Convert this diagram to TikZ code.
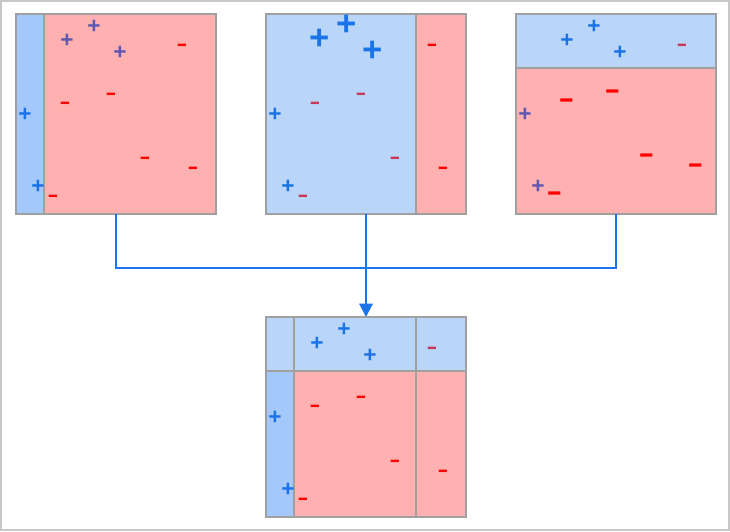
\documentclass[tikz,border=0pt]{standalone}
\usepackage{fontspec}
\setmainfont{Liberation Sans}
\usetikzlibrary{arrows.meta}
\definecolor{blueL}{HTML}{B9D5F8}
\definecolor{blueD}{HTML}{A4C8FA}
\definecolor{redF}{HTML}{FFB0B0}
\definecolor{gridC}{HTML}{A0A0A0}
\definecolor{frameC}{HTML}{C8C8C8}
\definecolor{lineB}{HTML}{1A73E8}
\definecolor{plusB}{HTML}{1A73E8}
\definecolor{plusP}{HTML}{5E58B0}
\definecolor{minR}{HTML}{FF0000}
\definecolor{minC}{HTML}{C8385A}
\begin{document}
\begin{tikzpicture}[x=0.75pt,y=-0.75pt,
  boxframe/.style={draw=gridC,line width=1.2pt,minimum width=150pt,minimum height=150pt,inner sep=0pt,outer sep=0pt},
  divider/.style={draw=gridC,line width=1.2pt},
  conn/.style={draw=lineB,line width=1.5pt},
  pl/.style={font=\bfseries\fontsize{17}{17}\selectfont,inner sep=0pt,yshift=-1.7pt},
  plbig/.style={font=\bfseries\fontsize{26}{26}\selectfont,inner sep=0pt,yshift=-1.8pt},
  mi/.style={font=\fontsize{23}{23}\selectfont,inner sep=0pt,xscale=1.1,yshift=-4.5pt},
  mibig/.style={font=\fontsize{31}{31}\selectfont,inner sep=0pt,xscale=1.2,yshift=-5.1pt}]
\useasboundingbox (0,0) rectangle (730,531);
\draw[frameC,line width=1.1pt] (1,1) rectangle (729,530);
% box 1
\fill[blueD] (16,14) rectangle (44,214);
\fill[redF] (44,14) rectangle (216,214);
\draw[divider] (44,14) -- (44,214);
\node[boxframe] (b1) at (116,114) {};
% box 2
\fill[blueL] (266,14) rectangle (416,214);
\fill[redF] (416,14) rectangle (466,214);
\draw[divider] (416,14) -- (416,214);
\node[boxframe] (b2) at (366,114) {};
% box 3
\fill[blueL] (516,14) rectangle (716,68);
\fill[redF] (516,68) rectangle (716,214);
\draw[divider] (516,68) -- (716,68);
\node[boxframe] (b3) at (616,114) {};
% box 4
\fill[blueL] (266,317) rectangle (466,371);
\fill[blueD] (266,371) rectangle (294,517);
\fill[redF] (294,371) rectangle (466,517);
\draw[divider] (266,371) -- (466,371);
\draw[divider] (294,317) -- (294,517);
\draw[divider] (416,317) -- (416,517);
\node[boxframe] (b4) at (366,417) {};
% connectors
\coordinate (j) at (366,268);
\draw[conn] (b1.south) |- (j);
\draw[conn] (b3.south) |- (j);
\draw[conn,-{Triangle[width=10pt,length=10pt]}] (b2.south) -- (b4.north);
% box 1 symbols
\foreach \x/\y [count=\i] in {67/39,94/25,120/51} \node[pl,text=plusP] (pa\i) at (\x,\y) {+};
\foreach \x/\y [count=\i] in {25/113,38/185} \node[pl,text=plusB] (pb\i) at (\x,\y) {+};
\foreach \x/\y [count=\i] in {182/43,65/101,111/92,145/156,193/166,53/194} \node[mi,text=minR] (ma\i) at (\x,\y) {-};
% box 2 symbols
\foreach \x/\y [count=\i] in {320/37,347/23,373/49} \node[plbig,text=plusB] (pc\i) at (\x,\y) {+};
\foreach \x/\y [count=\i] in {275/113,288/185} \node[pl,text=plusB] (pd\i) at (\x,\y) {+};
\foreach \x/\y [count=\i] in {315/101,361/92,395/156,303/194} \node[mi,text=minC] (mb\i) at (\x,\y) {-};
\foreach \x/\y [count=\i] in {432/43,443/166} \node[mi,text=minR] (mc\i) at (\x,\y) {-};
% box 3 symbols
\foreach \x/\y [count=\i] in {567/39,594/25,620/51} \node[pl,text=plusB] (pe\i) at (\x,\y) {+};
\foreach \x/\y [count=\i] in {525/113,538/185} \node[pl,text=plusP] (pf\i) at (\x,\y) {+};
\node[mi,text=minC] (md1) at (682,43) {-};
\foreach \x/\y [count=\i] in {567/98,613/89,647/153,696/163,555/191} \node[mibig,text=minR] (me\i) at (\x,\y) {-};
% box 4 symbols
\foreach \x/\y [count=\i] in {317/342,344/328,370/354,275/416,288/488} \node[pl,text=plusB] (pg\i) at (\x,\y) {+};
\node[mi,text=minC] (mf1) at (432,346) {-};
\foreach \x/\y [count=\i] in {315/404,361/395,395/459,443/469,303/497} \node[mi,text=minR] (mg\i) at (\x,\y) {-};
\end{tikzpicture}
\end{document}
